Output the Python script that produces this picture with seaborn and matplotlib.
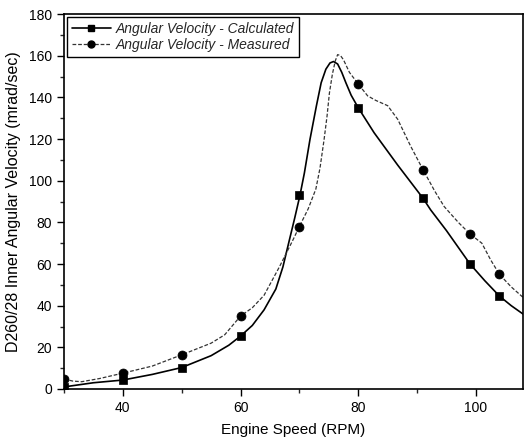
import numpy as np
import pandas as pd
import matplotlib
matplotlib.use("Agg")
import matplotlib.pyplot as plt
import seaborn as sns
from matplotlib.lines import Line2D
from matplotlib.ticker import MultipleLocator

# Curve values
calc_curve_x = [30, 35, 40, 45, 50, 55, 58, 60, 62, 64, 66, 67.2, 68.3, 69.2, 70.1, 70.85,
                71.8, 72.9, 73.7, 74.5, 75.2, 75.8, 76.5, 77.2, 77.9, 78.8, 79.6, 80,
                82.7, 86.7, 91, 92.3, 95, 99, 101.5, 104, 106, 108]
calc_curve_y = [1, 3, 4.3, 7, 10.3, 16, 21, 25.4, 30.5, 38, 48, 58.6, 71.5, 82, 93, 103.7,
                119.8, 136, 147, 153.5, 156.5, 157.2, 156, 152, 147, 141, 137, 135,
                123, 107.5, 91.6, 86, 76, 60, 52, 44.6, 40, 36]

meas_curve_x = [30, 31.5, 33, 36, 40, 45, 50, 55, 57.3, 60, 62, 64, 66.6, 68.9, 70, 71.5,
                72.8, 73.5, 74.2, 74.7, 75.1, 75.6, 76.1, 76.5, 77, 77.5, 78.5, 80, 81.6,
                83, 85, 86.7, 88.9, 91, 93, 94.6, 97, 99, 101, 102.5, 104, 106, 108]
meas_curve_y = [4.8, 3.8, 3.5, 5, 7.6, 11, 16.4, 22, 26, 35, 39, 45, 58.6, 71.5, 78, 86.5,
                96, 106, 119.8, 131, 142, 151, 157.5, 160.5, 160, 158, 152, 146.4, 140.7,
                138.5, 136, 129.5, 116.6, 105.3, 95, 87.6, 80, 74.4, 70, 62, 55, 49, 44]

# Marker values
marker_x = [30, 40, 50, 60, 70, 80, 91, 99, 104]
calc_marker_y = [1, 4.3, 10.3, 25.4, 93, 135, 91.6, 60, 44.6]
meas_marker_y = [4.8, 7.6, 16.4, 35, 78, 146.4, 105.3, 74.4, 55]

labels = ["Angular Velocity - Calculated", "Angular Velocity - Measured"]

sns.set_theme(style="ticks")
plt.rcParams["font.family"] = ["Liberation Sans", "DejaVu Sans"]

fig = plt.figure(figsize=(5.24, 4.43), dpi=100)
ax = fig.add_axes([64 / 524, 1 - 389 / 443, 459 / 524, 375 / 443])

calc_curve = pd.DataFrame({"x": calc_curve_x, "y": calc_curve_y})
meas_curve = pd.DataFrame({"x": meas_curve_x, "y": meas_curve_y})
calc_pts = pd.DataFrame({"x": marker_x, "y": calc_marker_y})
meas_pts = pd.DataFrame({"x": marker_x, "y": meas_marker_y})

sns.lineplot(data=calc_curve, x="x", y="y", ax=ax, color="black", lw=1.2,
             sort=False, estimator=None)
sns.lineplot(data=meas_curve, x="x", y="y", ax=ax, color="#333333", lw=0.9,
             sort=False, estimator=None, linestyle=(0, (3, 1.5)))
sns.scatterplot(data=calc_pts, x="x", y="y", ax=ax, marker="s", s=38,
                color="black", edgecolor="black", linewidth=0.5, zorder=5)
sns.scatterplot(data=meas_pts, x="x", y="y", ax=ax, marker="o", s=42,
                color="black", edgecolor="black", linewidth=0.5, zorder=5)

ax.set_xlim(30, 108)
ax.set_ylim(0, 180)
ax.xaxis.set_major_locator(MultipleLocator(20))
ax.xaxis.set_minor_locator(MultipleLocator(10))
ax.yaxis.set_major_locator(MultipleLocator(20))
ax.yaxis.set_minor_locator(MultipleLocator(10))
ax.tick_params(which="major", direction="out", length=5, width=1, labelsize=10,
               colors="black")
ax.tick_params(which="minor", direction="out", length=3, width=1)
ax.set_xticks([40, 60, 80, 100])
for s in ax.spines.values():
    s.set_color("black")
    s.set_linewidth(1.2)

ax.set_xlabel("Engine Speed (RPM)", fontsize=11, color="black", labelpad=6)
ax.set_ylabel("D260/28 Inner Angular Velocity (mrad/sec)", fontsize=11.5,
              color="black", labelpad=6)

handles = [
    Line2D([], [], color="black", lw=1.2, marker="s", markersize=5),
    Line2D([], [], color="#333333", lw=0.9, linestyle=(0, (3, 1.5)), marker="o",
           markersize=5, markerfacecolor="black", markeredgecolor="black"),
]
leg = ax.legend(handles, labels, loc="upper left", bbox_to_anchor=(0.006, 0.992),
                borderaxespad=0, frameon=True, fancybox=False,
                handlelength=2.8, handletextpad=0.4, borderpad=0.35,
                labelspacing=0.15, prop={"style": "italic", "size": 10})
leg.get_frame().set_edgecolor("black")
leg.get_frame().set_linewidth(1.0)
leg.get_frame().set_alpha(1)

fig.savefig("out.png", dpi=100)
